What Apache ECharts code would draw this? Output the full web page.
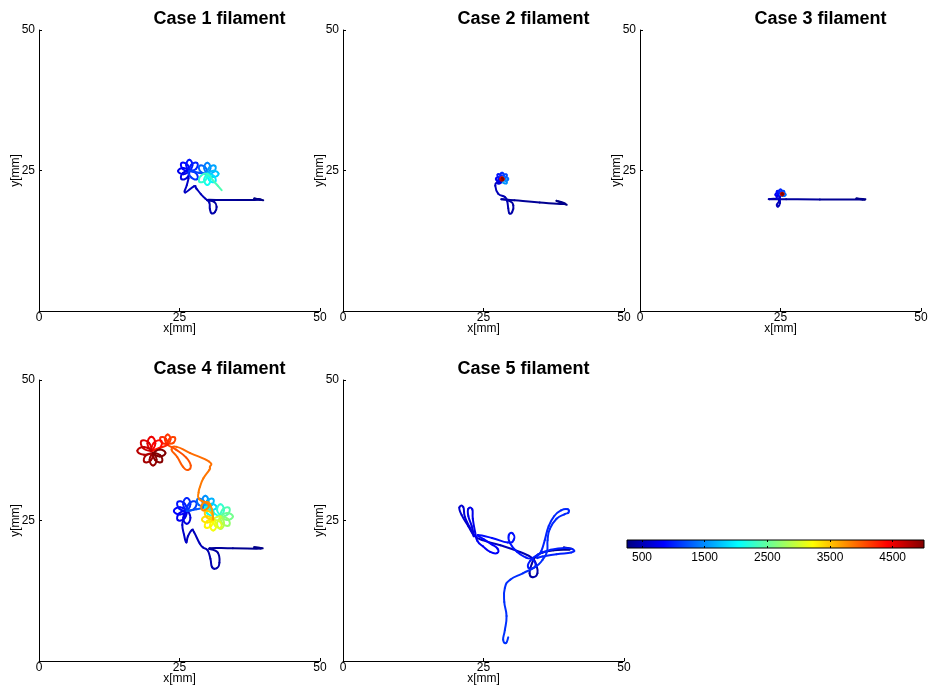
<!DOCTYPE html>
<html>
<head>
<meta charset="utf-8">
<script src="https://cdn.jsdelivr.net/npm/echarts@6/dist/echarts.min.js"></script>
<style>html,body{margin:0;padding:0;background:#fff}#c{width:931px;height:690px}</style>
</head>
<body>
<div id="c"></div>
<script>
// ---- data: trajectories as [x(mm), y(mm), time] ----
var titles = ['Case 1 filament','Case 2 filament','Case 3 filament','Case 4 filament','Case 5 filament'];
var axisTicks = [0, 25, 50];
var colorTicks = [500, 1500, 2500, 3500, 4500];
var colorMin = 260, colorMax = 5000;

var case1Path = [
[39.9,19.7,260],[38.3,20.0,275],[39.3,19.8,290],[35.0,19.75,330],[31.5,19.75,370],[29.9,19.75,390],
[31.2,19.4,410],[31.6,18.5,425],[31.3,17.6,440],[30.7,17.4,455],[30.4,18.2,470],[30.3,19.3,485],[29.6,20.0,500],[28.8,20.8,515],[28.0,21.8,530],[27.6,22.2,540],[26.0,21.1,560],[26.3,22.4,580],[26.6,23.6,600],
[26.75,24.9,640],
[26.40,23.75,660],[25.34,23.49,680],[25.60,24.55,700],[26.75,24.9,720],
[25.69,24.34,740],[24.75,24.9,760],[25.69,25.46,780],[26.75,24.9,800],
[25.60,25.25,820],[25.34,26.31,840],[26.40,26.05,860],[26.75,24.9,880],
[26.19,25.96,900],[26.75,26.9,920],[27.31,25.96,940],[26.75,24.9,960],
[27.10,26.05,980],[28.16,26.31,1000],[27.90,25.25,1020],[26.75,24.9,1040],
[27.90,24.55,1060],[28.16,23.49,1080],[27.10,23.75,1100],[26.75,24.9,1120],
[28.4,24.6,1160],[29.95,24.4,1200],
[28.80,24.75,1240],[28.54,25.81,1280],[29.60,25.55,1320],[29.95,24.4,1360],
[29.39,25.46,1400],[29.95,26.4,1440],[30.51,25.46,1480],[29.95,24.4,1520],
[30.30,25.55,1560],[31.36,25.81,1600],[31.10,24.75,1640],[29.95,24.4,1680],
[31.01,24.96,1720],[31.95,24.4,1760],[31.01,23.84,1800],[29.95,24.4,1840],
[31.10,24.05,1880],[31.36,22.99,1920],[30.30,23.25,1960],[29.95,24.4,2000],
[30.51,23.34,2040],[29.95,22.4,2080],[29.39,23.34,2120],[29.95,24.4,2160],
[29.60,23.25,2200],[28.54,22.99,2240],[28.80,24.05,2280],[29.95,24.4,2300],
[31.0,23.2,2330],[31.8,22.3,2360],[32.5,21.5,2390]
];

var case2Path = [
[39.8,18.9,260],[38.0,19.6,275],[39.4,19.05,290],[35.0,19.3,330],[30.5,19.7,370],[28.2,19.9,390],
[29.6,19.6,405],[30.3,18.8,420],[30.1,17.6,435],[29.6,17.4,445],[29.4,18.3,455],[29.2,19.6,470],[28.8,20.3,485],[27.6,20.9,500],[27.1,22.3,520],[27.4,22.9,540],[28.0,23.0,560],[28.3,23.5,600],
[28.11,22.87,640],[27.52,22.72,670],[27.67,23.31,700],[28.3,23.5,730],
[27.72,23.19,760],[27.2,23.5,790],[27.72,23.81,820],[28.3,23.5,850],
[27.67,23.69,880],[27.52,24.28,910],[28.11,24.13,940],[28.3,23.5,970],
[27.99,24.08,1000],[28.3,24.6,1030],[28.61,24.08,1060],[28.3,23.5,1090],
[28.49,24.13,1130],[29.08,24.28,1170],[28.93,23.69,1210],[28.3,23.5,1250],
[28.88,23.81,1290],[29.4,23.5,1330],[28.88,23.19,1370],[28.3,23.5,1410],
[28.93,23.31,1450],[29.08,22.72,1490],[28.49,22.87,1530],[28.3,23.5,1570],
[28.5,23.55,1800],[28.35,23.75,2200],[28.15,23.55,2600],[28.3,23.35,3000],[28.5,23.5,3500],
[28.6,23.5,4000],[28.3,23.8,4300],[28.0,23.5,4500],[28.3,23.2,4700],[28.55,23.5,4850],[28.3,23.7,4950],[28.3,23.5,5000]
];

var case3Path = [
[40.0,19.8,260],[38.5,20.0,275],[39.6,19.85,290],[32.0,19.85,350],[26.0,19.9,400],[23.0,19.9,430],[24.2,19.95,450],[24.8,19.7,470],[24.9,19.2,490],[24.6,18.6,510],[24.35,18.9,525],[24.8,19.6,540],[24.9,20.2,560],[25.0,20.7,590],
[24.84,20.18,620],[24.37,20.07,650],[24.48,20.54,680],[25.0,20.7,710],
[24.52,20.45,740],[24.1,20.7,770],[24.52,20.95,800],[25.0,20.7,830],
[24.48,20.86,860],[24.37,21.33,890],[24.84,21.22,920],[25.0,20.7,950],
[24.75,21.18,980],[25.0,21.6,1010],[25.25,21.18,1040],[25.0,20.7,1070],
[25.16,21.22,1100],[25.63,21.33,1140],[25.52,20.86,1180],[25.0,20.7,1220],
[25.48,20.95,1260],[25.9,20.7,1300],[25.48,20.45,1340],[25.0,20.7,1380],
[25.3,20.8,1600],[25.45,20.85,2000],[25.3,21.0,2500],[25.15,20.8,3000],[25.3,20.65,3500],
[25.55,20.8,4000],[25.3,21.05,4300],[25.05,20.8,4500],[25.3,20.55,4700],[25.5,20.8,4850],[25.3,20.95,4950],[25.3,20.8,5000]
];

var case4Path = [
[39.8,20.05,260],[38.3,20.25,275],[39.4,20.0,290],[34.5,20.05,340],[30.4,20.05,385],[31.8,19.3,405],[32.1,17.5,425],[31.6,16.5,440],[30.8,16.7,455],[30.5,18.2,470],[30.0,19.7,485],[29.2,20.2,495],[28.6,20.9,510],[27.6,22.9,530],[27.2,23.3,540],[26.5,22.2,555],[26.2,21.1,570],[25.8,22.5,590],[25.5,24.2,610],[25.8,25.5,630],[26.3,26.7,650],
[26.94,25.48,670],[26.3,24.4,690],[25.66,25.48,710],[26.3,26.7,730],
[25.90,25.38,750],[24.68,25.08,770],[24.98,26.30,790],[26.3,26.7,810],
[25.08,26.06,830],[24.0,26.7,850],[25.08,27.34,870],[26.3,26.7,890],
[24.98,27.10,910],[24.68,28.32,930],[25.90,28.02,950],[26.3,26.7,970],
[25.66,27.92,990],[26.3,29.0,1010],[26.94,27.92,1030],[26.3,26.7,1050],
[26.70,28.02,1080],[27.92,28.32,1110],[27.62,27.10,1140],[26.3,26.7,1170],
[28.0,27.0,1220],[29.6,27.4,1270],
[28.45,27.75,1310],[28.19,28.81,1350],[29.25,28.55,1390],[29.6,27.4,1430],
[29.04,28.46,1470],[29.6,29.4,1510],[30.16,28.46,1550],[29.6,27.4,1590],
[29.95,28.55,1630],[31.01,28.81,1670],[30.75,27.75,1710],[29.6,27.4,1750],
[30.66,27.96,1790],[31.6,27.4,1830],[30.66,26.84,1870],[29.6,27.4,1910],
[30.75,27.05,1950],[31.01,25.99,1990],[29.95,26.25,2030],[29.6,27.4,2070],
[31.0,26.4,2110],[32.3,25.7,2150],
[31.68,26.87,2190],[32.3,27.9,2230],[32.92,26.87,2270],[32.3,25.7,2310],
[32.69,26.97,2350],[33.85,27.25,2390],[33.57,26.09,2430],[32.3,25.7,2470],
[33.47,26.32,2510],[34.5,25.7,2550],[33.47,25.08,2590],[32.3,25.7,2630],
[33.57,25.31,2670],[33.85,24.15,2710],[32.69,24.43,2750],[32.3,25.7,2790],
[32.92,24.53,2830],[32.3,23.5,2870],[31.68,24.53,2910],[32.3,25.7,2950],
[31.0,25.2,3000],
[32.15,24.85,3025],[32.41,23.79,3050],[31.35,24.05,3075],[31.0,25.2,3100],
[31.56,24.14,3125],[31.0,23.2,3150],[30.44,24.14,3175],[31.0,25.2,3200],
[30.65,24.05,3225],[29.59,23.79,3250],[29.85,24.85,3275],[31.0,25.2,3300],
[29.94,24.64,3325],[29.0,25.2,3350],[29.94,25.76,3375],[31.0,25.2,3400],
[29.85,25.55,3425],[29.59,26.61,3450],[30.65,26.35,3475],[31.0,25.2,3500],
[30.6,27.5,3700],[29.8,28.3,3720],[28.9,27.6,3740],[29.3,26.8,3760],[30.2,27.8,3780],[28.5,28.8,3800],[28.4,30.0,3820],[28.65,31.0,3835],[29.25,32.5,3850],[30.3,34.0,3865],[30.4,34.5,3875],[30.25,35.5,3885],[26.9,37.0,3905],[24.5,38.1,3925],
[23.6,37.6,3960],[24.6,36.3,3975],[25.6,34.6,3990],[26.5,34.0,4000],[27.0,34.8,4010],[26.2,36.2,4025],[24.4,37.6,4040],[22.9,38.5,4055],
[23.94,38.82,4070],[24.17,39.77,4085],[23.22,39.54,4100],[22.9,38.5,4115],
[23.40,39.45,4130],[22.9,40.3,4145],[22.40,39.45,4160],[22.9,38.5,4175],
[22.58,39.54,4190],[21.63,39.77,4205],[21.86,38.82,4220],[22.9,38.5,4235],
[21.4,37.9,4260],[20.0,37.4,4290],
[21.43,37.84,4320],[21.77,39.17,4350],[20.44,38.83,4380],[20.0,37.4,4410],
[20.70,38.72,4440],[20.0,39.9,4470],[19.30,38.72,4500],[20.0,37.4,4530],
[19.56,38.83,4560],[18.23,39.17,4590],[18.57,37.84,4620],[20.0,37.4,4650],
[18.68,38.10,4680],[17.5,37.4,4710],[18.68,36.70,4740],[20.3,37.0,4770],
[19.03,36.61,4790],[18.75,35.45,4810],[19.91,35.73,4830],[20.3,37.0,4850],
[19.68,35.83,4870],[20.3,34.8,4890],[20.92,35.83,4910],[20.3,37.0,4930],
[20.69,35.73,4945],[21.85,35.45,4960],[21.57,36.61,4975],[20.3,37.0,4985],
[21.47,36.38,4990],[22.5,37.0,4995],[21.47,37.62,4998],[20.3,37.0,5000]
];

var case5Path = [
[40.8,19.95,260],[39.3,20.2,275],[40.3,19.85,290],[37.5,19.7,320],[35.5,19.3,345],[34.3,18.6,365],
[33.6,17.3,385],[33.2,15.6,405],[33.8,14.9,420],[34.6,15.6,435],[34.4,17.0,450],[33.7,18.3,465],
[31.5,19.4,490],[28.0,20.6,520],[24.8,21.5,550],[23.3,22.4,570],
[22.3,24.0,590],[21.1,26.0,610],[20.7,27.3,625],[21.4,27.4,635],[21.7,25.6,650],[22.7,23.5,670],[23.3,22.2,685],[22.9,24.0,700],[22.3,25.8,715],[22.3,27.1,730],[23.0,27.0,740],[23.1,25.3,755],[23.5,23.0,770],[23.9,21.4,785],
[24.9,20.4,800],[26.2,19.4,815],[27.4,19.2,830],[27.5,20.0,840],[26.4,20.8,855],[25.0,21.7,870],[24.0,22.4,880],
[26.5,21.9,900],[29.3,21.1,910],
[30.4,21.6,917],[30.2,22.7,922],[29.5,22.4,927],[29.7,21.0,932],[31.0,19.4,939],[32.6,18.4,946],[33.8,18.0,951],
[34.2,16.8,956],[33.0,16.6,961],[33.3,17.8,966],[34.8,19.0,971],
[37.0,19.8,976],[39.5,20.1,981],[41.0,19.8,986],[40.6,19.3,990],[38.0,19.0,994],[35.5,18.6,999],[34.5,18.4,1004],
[35.3,19.6,1008],[35.9,21.5,1012],[36.6,24.0,1016],[37.6,25.8,1020],[38.8,26.8,1024],[40.0,27.0,1027],[40.1,26.4,1029],[39.4,26.1,1032],[38.0,25.3,1035],[36.8,23.5,1038],[36.4,21.5,1042],[36.3,19.5,1046],[35.5,18.0,1050],
[34.3,16.8,1054],[32.0,15.6,1058],[29.8,14.5,1062],[28.8,13.0,1066],[28.7,10.5,1070],[29.1,8.0,1074],[28.8,5.5,1078],[28.5,3.8,1082],[29.0,3.2,1084],[29.4,4.2,1086]
];

var paths = [case1Path, case2Path, case3Path, case4Path, case5Path];
var jet = ['#000080','#0000FF','#0080FF','#00FFFF','#80FF80','#FFFF00','#FF8000','#FF0000','#800000'];

// ---- layout ----
var FONT = '"Liberation Sans", Arial, Helvetica, sans-serif';
var panels = [
  {left: 39, top: 30}, {left: 343, top: 30}, {left: 640, top: 30},
  {left: 39, top: 380}, {left: 343, top: 380}
];
var SIZE = 281;
var TENSION = 4; // smoothing divisor for pixel-space curve drawing

var chart = echarts.init(document.getElementById('c'), null, {renderer: 'canvas'});

function makeRender(path) {
  return function (params, api) {
    var i = params.dataIndex;
    if (i === 0) return {type: 'group', children: []};
    var a = path[Math.max(i - 2, 0)], b = path[i - 1], n = path[Math.min(i + 1, path.length - 1)];
    var p0 = api.coord([a[0], a[1]]);
    var p1 = api.coord([b[0], b[1]]);
    var p2 = api.coord([api.value(0), api.value(1)]);
    var p3 = api.coord([n[0], n[1]]);
    var c1 = [p1[0] + (p2[0] - p0[0]) / TENSION, p1[1] + (p2[1] - p0[1]) / TENSION];
    var c2 = [p2[0] - (p3[0] - p1[0]) / TENSION, p2[1] - (p3[1] - p1[1]) / TENSION];
    return {
      type: 'bezierCurve',
      shape: {x1: p1[0], y1: p1[1], x2: p2[0], y2: p2[1], cpx1: c1[0], cpy1: c1[1], cpx2: c2[0], cpy2: c2[1]},
      style: {stroke: api.visual('color'), lineWidth: 2, fill: null, lineCap: 'round', lineJoin: 'round'}
    };
  };
}

var grids = [], xAxes = [], yAxes = [], series = [], titleOpts = [];
panels.forEach(function (p, k) {
  grids.push({left: p.left, top: p.top, width: SIZE, height: SIZE, containLabel: false});
  xAxes.push({
    gridIndex: k, type: 'value', min: axisTicks[0], max: axisTicks[2], interval: 25,
    name: 'x[mm]', nameLocation: 'middle', nameGap: 12, nameMoveOverlap: false,
    nameTextStyle: {fontSize: 12, color: '#000', fontFamily: FONT},
    axisLine: {lineStyle: {color: '#000', width: 1}},
    axisTick: {inside: true, length: 3, lineStyle: {color: '#000'}},
    axisLabel: {fontSize: 12, color: '#000', margin: 1, fontFamily: FONT},
    splitLine: {show: false}
  });
  yAxes.push({
    gridIndex: k, type: 'value', min: axisTicks[0], max: axisTicks[2], interval: 25,
    name: 'y[mm]', nameLocation: 'middle', nameGap: 17, nameMoveOverlap: false,
    nameTextStyle: {fontSize: 12, color: '#000', fontFamily: FONT},
    axisLine: {lineStyle: {color: '#000', width: 1}},
    axisTick: {inside: true, length: 3, lineStyle: {color: '#000'}},
    axisLabel: {fontSize: 12, color: '#000', margin: 4, fontFamily: FONT, showMinLabel: false},
    splitLine: {show: false}
  });
  series.push({
    type: 'custom', xAxisIndex: k, yAxisIndex: k,
    dimensions: ['x', 'y', 't'], encode: {x: 0, y: 1},
    data: paths[k], renderItem: makeRender(paths[k]), clip: false, silent: true
  });
  titleOpts.push({
    text: titles[k], left: p.left + SIZE / 2 + 40, top: p.top - 20, textAlign: 'center', padding: 0,
    textStyle: {fontSize: 18, fontWeight: 'bold', color: '#000', fontFamily: FONT}
  });
});

// colorbar grid
var stops = jet.map(function (c, i) { return {offset: i / (jet.length - 1), color: c}; });
grids.push({
  left: 627, top: 540, width: 297, height: 8, show: true,
  backgroundColor: new echarts.graphic.LinearGradient(0, 0, 1, 0, stops),
  borderColor: '#000', borderWidth: 1
});
xAxes.push({
  gridIndex: 5, type: 'value', min: colorMin, max: colorMax, position: 'bottom',
  axisLine: {show: false},
  axisTick: {inside: true, length: 2, lineStyle: {color: '#000'}, customValues: colorTicks},
  axisLabel: {fontSize: 12, color: '#000', margin: 4, fontFamily: FONT, customValues: colorTicks,
    formatter: function (v) { return String(v); }},
  splitLine: {show: false}
});
xAxes.push({
  gridIndex: 5, type: 'value', min: colorMin, max: colorMax, position: 'top',
  axisLine: {show: false},
  axisTick: {inside: true, length: 2, lineStyle: {color: '#000'}, customValues: colorTicks},
  axisLabel: {show: false},
  splitLine: {show: false}
});
yAxes.push({gridIndex: 5, type: 'value', show: false, min: 0, max: 1});

chart.setOption({
  animation: false,
  backgroundColor: '#fff',
  title: titleOpts,
  grid: grids,
  xAxis: xAxes,
  yAxis: yAxes,
  visualMap: {
    type: 'continuous', show: false, min: colorMin, max: colorMax, dimension: 2,
    seriesIndex: [0, 1, 2, 3, 4], inRange: {color: jet}
  },
  series: series
});
</script>
</body>
</html>
